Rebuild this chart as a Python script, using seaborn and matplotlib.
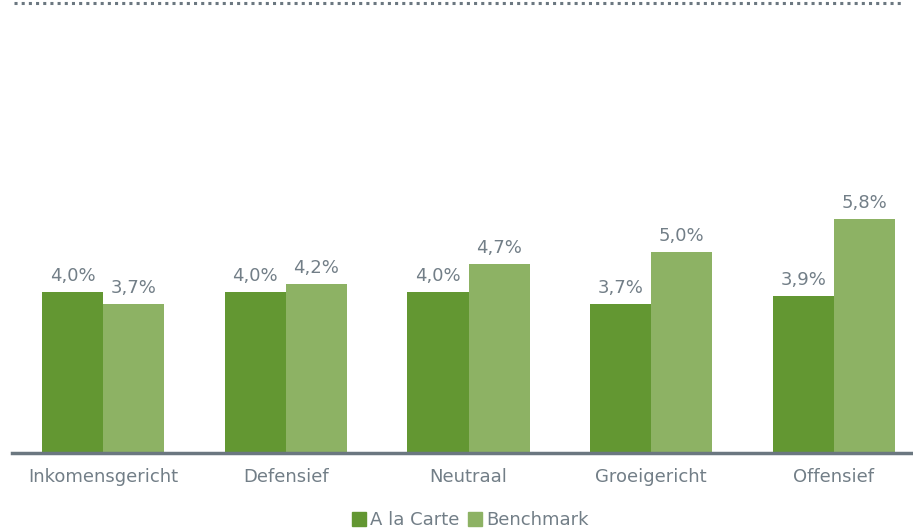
import pandas as pd
import numpy as np
import matplotlib.pyplot as plt
import seaborn as sns
from matplotlib.lines import Line2D

categories = ["Inkomensgericht", "Defensief", "Neutraal", "Groeigericht", "Offensief"]
a_la_carte = [4.0, 4.0, 4.0, 3.7, 3.9]
benchmark = [3.7, 4.2, 4.7, 5.0, 5.8]
series_names = ["A la Carte", "Benchmark"]

dark_green = "#639732"
light_green = "#8db264"
text_grey = "#727e87"
axis_grey = "#6b7780"

df = pd.DataFrame({
    "categorie": categories * 2,
    "serie": [series_names[0]] * len(categories) + [series_names[1]] * len(categories),
    "waarde": a_la_carte + benchmark,
})

sns.set_theme(style="white")
plt.rcParams["font.family"] = ["DejaVu Sans"]

fig = plt.figure(figsize=(9.13, 5.30), dpi=100)
ax = fig.add_axes([12 / 913, 1 - 453 / 530, 901 / 913, 443 / 530])

sns.barplot(data=df, x="categorie", y="waarde", hue="serie",
            palette=[dark_green, light_green], width=0.67, saturation=1,
            linewidth=0, ax=ax, legend=False)

for container in ax.containers:
    ax.bar_label(container, labels=[f"{v:.1f}%".replace(".", ",") for v in container.datavalues],
                 padding=5, fontsize=13, color=text_grey)

ax.set_ylim(0, 11)
ax.set_xlim(-0.5, 4.5 - 12 / 182.4)
ax.set_yticks([])
ax.set_xlabel("")
ax.set_ylabel("")
ax.tick_params(axis="x", length=0, labelsize=13, labelcolor=text_grey, pad=11)
for side in ["top", "right", "left"]:
    ax.spines[side].set_visible(False)
ax.spines["bottom"].set_color(axis_grey)
ax.spines["bottom"].set_linewidth(2.5)

# dotted line at the top
fig.add_artist(Line2D([14 / 913, 904 / 913], [1 - 3 / 530, 1 - 3 / 530], transform=fig.transFigure,
                      color=axis_grey, linewidth=2.2, solid_capstyle="butt", dash_capstyle="butt",
                      linestyle=(0, (1, 1.35))))

handles = [Line2D([], [], marker="s", linestyle="", markersize=10, color=c) for c in [dark_green, light_green]]
fig.legend(handles, series_names, loc="center", bbox_to_anchor=(470 / 913, 1 - 520 / 530),
           ncol=2, frameon=False, fontsize=13, labelcolor=text_grey,
           handletextpad=0.2, columnspacing=0.5, handlelength=0.8)

fig.savefig("out.png", dpi=100)
